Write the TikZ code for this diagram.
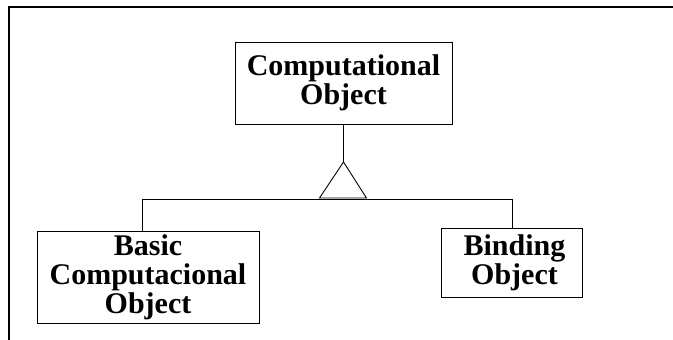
\documentclass[tikz,border=0pt]{standalone}
\usepackage{fontspec}
\setmainfont{Liberation Serif}
\begin{document}
\begin{tikzpicture}[x=1pt,y=-1pt,
  box/.style={draw, line width=0.9pt, inner sep=0pt, align=center,
    font=\fontsize{30}{29}\selectfont\bfseries},
  conn/.style={line width=0.9pt}]
\useasboundingbox (0,0) rectangle (673,340);
\draw[line width=1.6pt] (673,7) -- (9,7) -- (9,340);
\node[box, minimum width=217pt, minimum height=82pt] (top) at (343.5,83) {Computational\\Object};
\node[box, minimum width=222pt, minimum height=92pt] (basic) at (148,277) {Basic\\Computacional\\Object};
\node[box, minimum width=141pt, minimum height=69pt] (bind) at (511.5,262.5) {\hspace*{6pt}Binding\\\hspace*{6pt}Object};
\coordinate (apex) at (343.5,162);
\coordinate (tl) at (319.5,198);
\coordinate (tr) at (366.5,198);
\coordinate (hl) at (142,199);
\coordinate (hr) at (512,199);
\draw[conn] (top.south) -- (apex);
\draw[conn] (apex) -- (tl) -- (tr) -- cycle;
\draw[conn] (hl |- basic.north) -- (hl) -- (hr) -- (hr |- bind.north);
\end{tikzpicture}
\end{document}
